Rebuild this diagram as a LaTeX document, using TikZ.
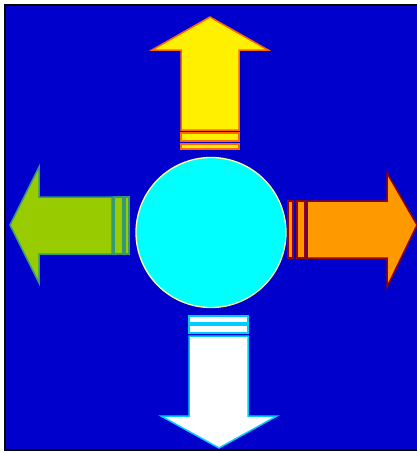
\documentclass[tikz,border=0pt]{standalone}
\usepackage{tikz}
\definecolor{bgblue}{RGB}{0,0,204}
\definecolor{upfill}{RGB}{255,240,0}
\definecolor{upline}{RGB}{255,102,0}
\definecolor{leftfill}{RGB}{153,204,0}
\definecolor{leftline}{RGB}{51,153,119}
\definecolor{rightfill}{RGB}{255,153,0}
\definecolor{rightline}{RGB}{153,0,0}
\definecolor{downline}{RGB}{0,204,255}
\definecolor{hubfill}{RGB}{0,255,255}
\definecolor{hubline}{RGB}{255,255,153}

\begin{document}
\begin{tikzpicture}[x=1pt, y=-1pt,
    uparr/.style={fill=upfill, draw=upline, line width=1.5pt},
    leftarr/.style={fill=leftfill, draw=leftline, line width=1.5pt},
    rightarr/.style={fill=rightfill, draw=rightline, line width=1.5pt},
    downarr/.style={fill=white, draw=downline, line width=1.5pt},
    hub/.style={circle, fill=hubfill, draw=hubline, line width=1.3pt, minimum size=150pt, inner sep=0pt}
]
\useasboundingbox (0,0) rectangle (417,453);
\fill[bgblue] (5,5) rectangle (417,450);
\draw[line width=2pt] (417,5) -- (5,5) -- (5,450) -- (417,450);

% up
\draw[uparr] (210,17) -- (268,50) -- (239,50) -- (239,130) -- (181,130) -- (181,50) -- (152,50) -- cycle;
\draw[uparr] (181,133) rectangle (239,141);
\draw[uparr] (181,144) rectangle (239,149);

% left
\draw[leftarr] (10,225) -- (39,167) -- (39,197) -- (112,197) -- (112,254) -- (39,254) -- (39,283) -- cycle;
\draw[leftarr] (114,197) rectangle (123,254);
\draw[leftarr] (125,197) rectangle (129,254);

% right
\draw[rightarr] (417,225) -- (387,173) -- (387,201) -- (307,201) -- (307,258) -- (387,258) -- (387,287) -- cycle;
\draw[rightarr] (288,201) rectangle (293,258);
\draw[rightarr] (297,201) rectangle (305,258);

% down
\draw[downarr] (219,448) -- (277,416) -- (248,416) -- (248,336) -- (189,336) -- (189,416) -- (161,416) -- cycle;
\draw[downarr] (189,316) rectangle (248,323);
\draw[downarr] (189,325) rectangle (248,333);

\node[hub] (core) at (211,232.5) {};
\end{tikzpicture}
\end{document}
